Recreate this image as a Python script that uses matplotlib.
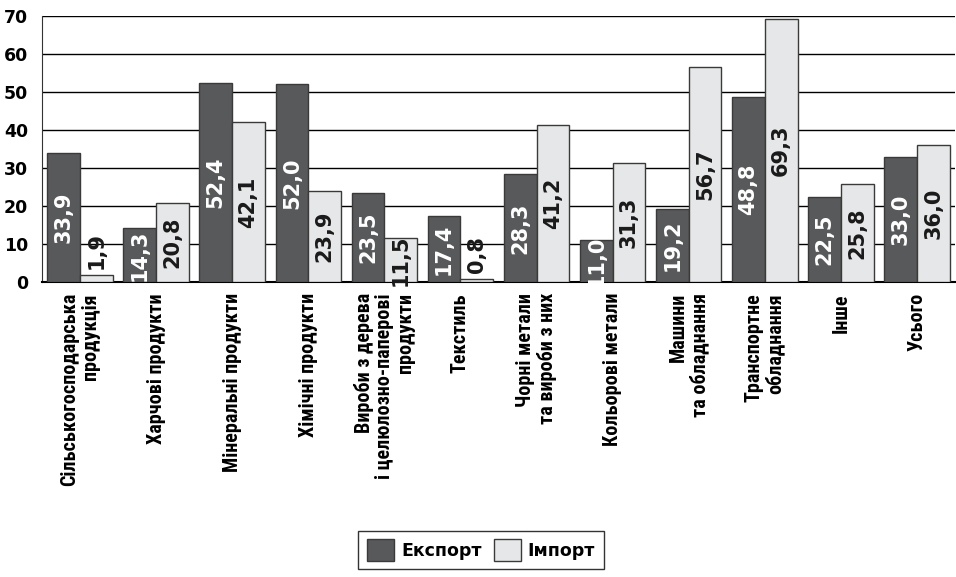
import matplotlib
matplotlib.use("Agg")
import matplotlib.pyplot as plt
import numpy as np
from matplotlib.patches import Patch

plt.rcParams['font.family'] = ['Roboto Condensed', 'DejaVu Sans']
plt.rcParams['font.weight'] = 'bold'
NUMFONT = ['Arimo', 'DejaVu Sans']

categories = [
    "Сільськогосподарська\nпродукція",
    "Харчові продукти",
    "Мінеральні продукти",
    "Хімічні продукти",
    "Вироби з дерева\nі целюлозно-паперові\nпродукти",
    "Текстиль",
    "Чорні метали\nта вироби з них",
    "Кольорові метали",
    "Машини\nта обладнання",
    "Транспортне\nобладнання",
    "Інше",
    "Усього",
]
export_vals = [33.9, 14.3, 52.4, 52.0, 23.5, 17.4, 28.3, 11.0, 19.2, 48.8, 22.5, 33.0]
import_vals = [1.9, 20.8, 42.1, 23.9, 11.5, 0.8, 41.2, 31.3, 56.7, 69.3, 25.8, 36.0]
series_names = ["Експорт", "Імпорт"]
yticks = [0, 10, 20, 30, 40, 50, 60, 70]

dark = "#58595b"
light = "#e6e7e8"
edge = "#3a3a3a"

fig = plt.figure(figsize=(9.56, 5.77), dpi=100)
ax = fig.add_axes([42/956, 1-282/577, (955-42)/956, (282-16)/577])

x = np.arange(len(categories))
w = 0.43
b1 = ax.bar(x - w/2, export_vals, w, color=dark, edgecolor=edge, linewidth=1, zorder=3)
b2 = ax.bar(x + w/2, import_vals, w, color=light, edgecolor=edge, linewidth=1, zorder=3)

def fmt(v):
    return f"{v:.1f}".replace(".", ",")

for bars, vals, col in ((b1, export_vals, "white"), (b2, import_vals, "#1a1a1a")):
    for r, v in zip(bars, vals):
        cx = r.get_x() + r.get_width()/2
        if v < 5:
            ax.text(cx, v + 1.6, fmt(v), rotation=90, ha='center', va='bottom',
                    color="#1a1a1a", fontsize=15, fontweight='bold', family=NUMFONT, zorder=4)
        else:
            ax.text(cx, v/2, fmt(v), rotation=90, ha='center', va='center',
                    color=col, fontsize=15, fontweight='bold', family=NUMFONT, zorder=4)

ax.set_xlim(-0.5, len(categories) - 0.5)
ax.set_ylim(0, 70)
ax.set_yticks(yticks)
ax.set_yticklabels([str(t) for t in yticks], fontsize=12.5, fontweight='bold', family=NUMFONT)
ax.yaxis.grid(True, color='black', linewidth=1, zorder=0)
ax.set_axisbelow(True)
ax.tick_params(axis='y', length=0, pad=10)
ax.tick_params(axis='x', length=0, pad=8)
ax.set_xticks(x)
ax.set_xticklabels(categories, rotation=90, fontsize=14.5, fontweight='bold',
                   ha='center', va='top', multialignment='right', linespacing=1.12)
for s in ['top', 'right']:
    ax.spines[s].set_visible(False)
ax.spines['left'].set_color('#333333')
ax.spines['bottom'].set_color('black')
ax.spines['bottom'].set_linewidth(1.5)

handles = [Patch(facecolor=dark, edgecolor=edge, label=series_names[0]),
           Patch(facecolor=light, edgecolor=edge, label=series_names[1])]
leg = fig.legend(handles=handles, loc='center', bbox_to_anchor=(481/956, 1-550/577),
                 ncol=2, frameon=True, fancybox=False, edgecolor='black',
                 prop={'weight': 'bold', 'size': 12.5, 'family': NUMFONT},
                 handlelength=1.55, handleheight=1.5,
                 handletextpad=0.4, columnspacing=0.7, borderpad=0.5, borderaxespad=0)
leg.get_frame().set_linewidth(1)

fig.savefig("out.png", dpi=100)
